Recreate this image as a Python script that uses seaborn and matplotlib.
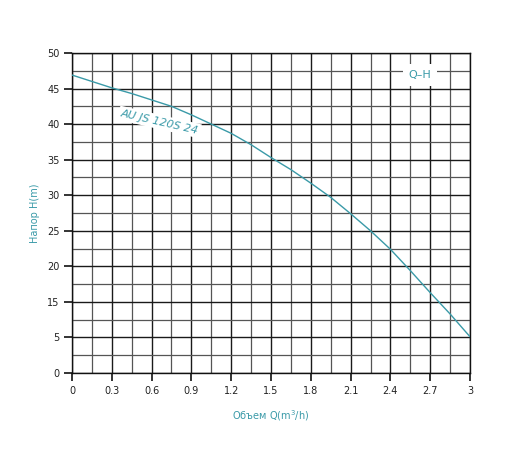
import matplotlib
matplotlib.use('Agg')
import matplotlib.pyplot as plt
import seaborn as sns
import pandas as pd

# flow Q (m3/h) and head, head given in axis units of the printed scale
flow = [0, 0.15, 0.3, 0.45, 0.6, 0.75, 0.9, 1.05, 1.2, 1.35, 1.5, 1.65, 1.8, 1.95, 2.1, 2.25, 2.4, 2.55, 2.7, 2.85, 3.0]
head = [41.9, 41.0, 40.1, 39.3, 38.4, 37.5, 36.3, 35.0, 33.7, 32.1, 30.3, 28.6, 26.7, 24.7, 22.4, 20.0, 17.4, 14.4, 11.3, 8.3, 5.1]

x_ticks = [0, 0.3, 0.6, 0.9, 1.2, 1.5, 1.8, 2.1, 2.4, 2.7, 3]
x_labels = ["0", "0.3", "0.6", "0.9", "1.2", "1.5", "1.8", "2.1", "2.4", "2.7", "3"]
# the printed axis skips "10"
y_ticks = [0, 5, 10, 15, 20, 25, 30, 35, 40, 45]
y_labels = ["0", "5", "15", "20", "25", "30", "35", "40", "45", "50"]

teal = "#3a9aa8"
df = pd.DataFrame({"Q": flow, "H": head})

sns.set_style("white")
fig = plt.figure(figsize=(5.12, 4.62), dpi=100)
ax = fig.add_axes([0.1406, 0.1926, 0.7774, 0.6927])

sns.lineplot(data=df, x="Q", y="H", color=teal, linewidth=1.0, ax=ax, zorder=3)

ax.set_xticks(x_ticks)
ax.set_xticklabels(x_labels)
ax.set_yticks(y_ticks)
ax.set_yticklabels(y_labels)
ax.set_xticks([t + 0.15 for t in x_ticks[:-1]], minor=True)
ax.set_yticks([t + 2.5 for t in y_ticks[:-1]], minor=True)
ax.set_xlim(0, 3)
ax.set_ylim(0, 45)

ax.grid(which="major", color="#1a1a1a", linewidth=1.0)
ax.grid(which="minor", color="#555555", linewidth=0.9)
ax.tick_params(axis="both", which="major", direction="out", length=6, width=1.2,
               color="#111111", labelsize=7, labelcolor="#222222", pad=3,
               bottom=True, left=True)
ax.tick_params(which="minor", length=0)
for s in ax.spines.values():
    s.set_color("#111111")
    s.set_linewidth(1.0)

ax.set_xlabel("Объем Q(m$^3$/h)", color=teal, fontsize=7, labelpad=9)
ax.set_ylabel("Напор H(m)", color=teal, fontsize=7, labelpad=5)

ax.text(0.66, 35.3, "AU JS 120S 24", rotation=-13, color=teal, fontsize=8,
        fontstyle="italic", ha="center", va="center",
        bbox=dict(facecolor="white", edgecolor="none", pad=1.5), zorder=4)
ax.text(2.62, 41.9, "Q–H", color=teal, fontsize=8, ha="center", va="center",
        bbox=dict(facecolor="white", edgecolor="none", pad=4), zorder=4)

fig.savefig("out.png", dpi=100)
